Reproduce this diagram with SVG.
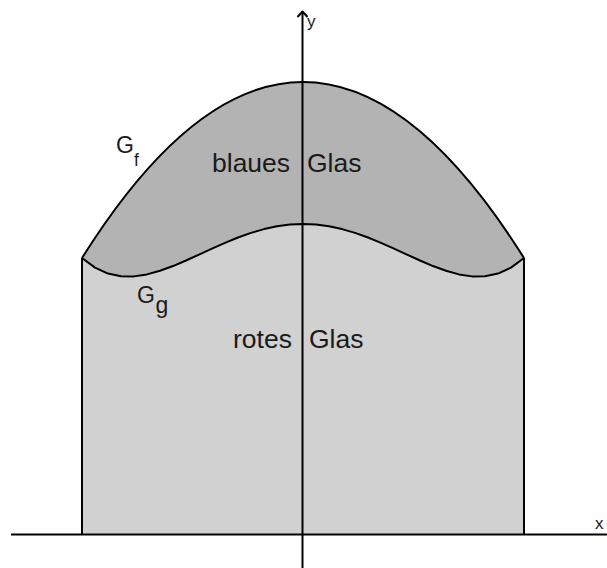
<svg xmlns="http://www.w3.org/2000/svg" width="607" height="568" viewBox="0 0 607 568">
<style>
.ln{fill:none;stroke:#000;stroke-width:2;stroke-linejoin:round;stroke-linecap:butt}
.t{font-family:"Liberation Sans",Arial,sans-serif;fill:#1a1a1a}
</style>
<rect width="607" height="568" fill="#fff"/>
<g id="rotes-glas">
<path d="M82,534 L82,258 L95,267.65 L108,273.54 L121,276.27 L134,276.38 L147,274.4 L160,270.81 L173,266.05 L186,260.52 L199,254.6 L212,248.61 L225,242.83 L238,237.52 L251,232.88 L264,229.1 L277,226.3 L290,224.58 L303,224 L316,224.58 L329,226.3 L342,229.1 L355,232.88 L368,237.52 L381,242.83 L394,248.61 L407,254.6 L420,260.52 L433,266.05 L446,270.81 L459,274.4 L472,276.38 L485,276.27 L498,273.54 L511,267.65 L524,258 L524,534 Z" fill="#d1d1d1"/>
<text class="t" x="233" y="348" font-size="26.5">rotes</text>
<text class="t" x="309" y="348" font-size="26.5">Glas</text>
</g>
<g id="blaues-glas">
<path d="M82,258 Q303,-94 524,258 L511,267.65 L498,273.54 L485,276.27 L472,276.38 L459,274.4 L446,270.81 L433,266.05 L420,260.52 L407,254.6 L394,248.61 L381,242.83 L368,237.52 L355,232.88 L342,229.1 L329,226.3 L316,224.58 L303,224 L290,224.58 L277,226.3 L264,229.1 L251,232.88 L238,237.52 L225,242.83 L212,248.61 L199,254.6 L186,260.52 L173,266.05 L160,270.81 L147,274.4 L134,276.38 L121,276.27 L108,273.54 L95,267.65 Z" fill="#b3b3b3"/>
<text class="t" x="212" y="172" font-size="26.5">blaues</text>
<text class="t" x="307" y="172" font-size="26.5">Glas</text>
</g>
<g id="connectors">
<path class="ln" d="M82,258 Q303,-94 524,258"/>
<path class="ln" d="M82,258 L95,267.65 L108,273.54 L121,276.27 L134,276.38 L147,274.4 L160,270.81 L173,266.05 L186,260.52 L199,254.6 L212,248.61 L225,242.83 L238,237.52 L251,232.88 L264,229.1 L277,226.3 L290,224.58 L303,224 L316,224.58 L329,226.3 L342,229.1 L355,232.88 L368,237.52 L381,242.83 L394,248.61 L407,254.6 L420,260.52 L433,266.05 L446,270.81 L459,274.4 L472,276.38 L485,276.27 L498,273.54 L511,267.65 L524,258"/>
<path class="ln" d="M82,258 L82,534 M524,258 L524,534"/>
<path class="ln" d="M11,534.5 L607,534.5"/>
<path class="ln" d="M302.5,12 L302.5,568"/>
<path class="ln" d="M297.5,17 L302.5,11.5 L307.5,17"/>
</g>
<g id="labels">
<text class="t" x="307" y="27" font-size="17">y</text>
<text class="t" x="595" y="529" font-size="17">x</text>
<text class="t" x="116" y="152.5" font-size="23">G</text>
<text class="t" x="134" y="165.5" font-size="17.5">f</text>
<text class="t" x="137" y="303" font-size="23">G</text>
<text class="t" x="155.5" y="313" font-size="23">g</text>
</g>
</svg>
